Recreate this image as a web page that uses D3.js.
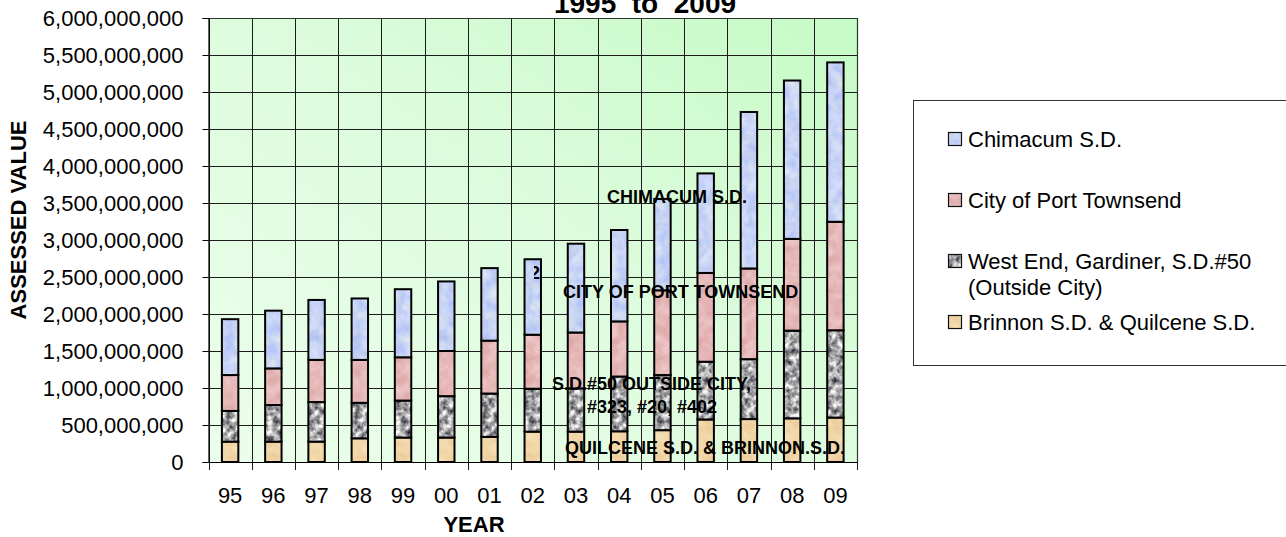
<!DOCTYPE html>
<html>
<head>
<meta charset="utf-8">
<script src="https://cdn.jsdelivr.net/npm/d3@7"></script>
<style>
  html, body { margin: 0; padding: 0; background: #ffffff; }
  svg { display: block; font-family: "Liberation Sans", Arial, sans-serif; }
</style>
</head>
<body>
<svg id="chart" width="1286" height="537"></svg>
<script>
// Assessed value by school district, in millions of dollars (segment heights)
const years = ["95","96","97","98","99","00","01","02","03","04","05","06","07","08","09"];
const brinnonQuilcene = [275,275,275,320,330,330,340,410,410,415,430,575,580,590,600];
const westEndGardiner = [415,495,535,480,500,560,585,580,585,740,745,780,810,1185,1180];
const portTownsend    = [485,495,570,580,585,610,715,730,755,745,1145,1200,1225,1240,1466];
const chimacum        = [755,780,810,830,920,940,980,1020,1200,1235,1235,1345,2115,2140,2154];

const seriesKeys   = ["brinnon", "westEnd", "portTownsend", "chimacum"];
const legendLabels = [
  ["Chimacum S.D."],
  ["City of Port Townsend"],
  ["West End, Gardiner, S.D.#50", "(Outside City)"],
  ["Brinnon S.D. & Quilcene S.D."]
];
const legendKeys = ["chimacum", "portTownsend", "westEnd", "brinnon"];
const yTicks = d3.range(0, 6000000001, 500000000);

const rows = years.map((yr, i) => ({
  year: yr,
  brinnon: brinnonQuilcene[i] * 1e6,
  westEnd: westEndGardiner[i] * 1e6,
  portTownsend: portTownsend[i] * 1e6,
  chimacum: chimacum[i] * 1e6
}));

const svg = d3.select("#chart");
const plot = { left: 208.5, right: 857, top: 18, bottom: 462 };

const x = d3.scaleBand().domain(years).range([plot.left, plot.right]).padding(0);
const y = d3.scaleLinear().domain([0, 6e9]).range([plot.bottom, plot.top]);

// ---- defs: background gradient and mottled fill textures ----
const defs = svg.append("defs");
const bg = defs.append("linearGradient").attr("id", "plotBg")
  .attr("x1", 0).attr("y1", 1).attr("x2", 1).attr("y2", 0);
bg.append("stop").attr("offset", "0%").attr("stop-color", "#ecfeec");
bg.append("stop").attr("offset", "55%").attr("stop-color", "#dcfcdc");
bg.append("stop").attr("offset", "100%").attr("stop-color", "#c6fac6");

const textures = {
  chimacum:     { freq: 0.09, oct: 3, seed: 4,
                  m: "0.26 0 0 0 0.65  0.22 0 0 0 0.72  0 0.10 0 0 0.91  0 0 0 0 1" },
  portTownsend: { freq: 0.10, oct: 3, seed: 9,
                  m: "0.10 0 0 0 0.85  0.20 0 0 0 0.62  0.20 0 0 0 0.62  0 0 0 0 1" },
  westEnd:      { freq: 0.17, oct: 3, seed: 2,
                  m: "1.3 0 0 0 0.00  1.3 0 0 0 0.00  1.2 0 0 0 0.06  0 0 0 0 1" },
  brinnon:      { freq: 0.10, oct: 2, seed: 6,
                  m: "0.05 0 0 0 0.92  0.14 0 0 0 0.77  0.18 0 0 0 0.57  0 0 0 0 1" }
};
Object.entries(textures).forEach(([key, t]) => {
  const f = defs.append("filter").attr("id", "noise-" + key)
    .attr("x", 0).attr("y", 0).attr("width", 1).attr("height", 1)
    .attr("filterUnits", "objectBoundingBox")
    .attr("color-interpolation-filters", "sRGB");
  f.append("feTurbulence").attr("type", "fractalNoise")
    .attr("baseFrequency", t.freq).attr("numOctaves", t.oct).attr("seed", t.seed)
    .attr("stitchTiles", "stitch");
  f.append("feColorMatrix").attr("type", "matrix").attr("values", t.m);
  const p = defs.append("pattern").attr("id", "fill-" + key)
    .attr("patternUnits", "userSpaceOnUse").attr("width", 64).attr("height", 256);
  p.append("rect").attr("width", 64).attr("height", 256).attr("filter", `url(#noise-${key})`);
});

// ---- plot background ----
svg.append("rect")
  .attr("x", plot.left).attr("y", plot.top)
  .attr("width", plot.right - plot.left).attr("height", plot.bottom - plot.top)
  .attr("fill", "url(#plotBg)");

// ---- gridlines ----
const grid = svg.append("g").attr("stroke", "#1c1c1c").attr("stroke-width", 1);
grid.selectAll("line.h").data(yTicks.slice(1)).join("line").attr("class", "h")
  .attr("x1", plot.left).attr("x2", plot.right)
  .attr("y1", d => Math.round(y(d)) + 0.5).attr("y2", d => Math.round(y(d)) + 0.5);
const boundaries = years.map(d => x(d)).concat([plot.right]);
grid.selectAll("line.v").data(boundaries).join("line").attr("class", "v")
  .attr("y1", plot.top).attr("y2", plot.bottom + 8)
  .attr("x1", d => Math.round(d) + 0.5).attr("x2", d => Math.round(d) + 0.5);

// plot frame (top and right)
svg.append("path")
  .attr("d", `M${plot.left},${plot.top + 0.5}H${plot.right + 0.5}V${plot.bottom}`)
  .attr("fill", "none").attr("stroke", "#2a3a2a").attr("stroke-width", 1.2);

// ---- stacked bars ----
const stacked = d3.stack().keys(seriesKeys)(rows);
const barW = x.bandwidth() * 0.38;
svg.append("g").selectAll("g").data(stacked).join("g")
  .attr("fill", d => `url(#fill-${d.key})`)
  .selectAll("rect").data(d => d).join("rect")
  .attr("x", d => x(d.data.year) + (x.bandwidth() - barW) / 2)
  .attr("y", d => y(d[1]))
  .attr("width", barW)
  .attr("height", d => y(d[0]) - y(d[1]))
  .attr("stroke", "#000").attr("stroke-width", 2);

// ---- axes ----
const yAxis = svg.append("g").attr("transform", `translate(${plot.left},0)`)
  .call(d3.axisLeft(y).tickValues(yTicks).tickFormat(d3.format(","))
    .tickSize(6).tickPadding(19));
yAxis.select(".domain").attr("stroke", "#000").attr("stroke-width", 1.2);
yAxis.selectAll(".tick line").attr("stroke", "#000");
yAxis.selectAll("text").attr("font-size", 22).attr("fill", "#000")
  .attr("font-family", "Liberation Sans, Arial, sans-serif");

const xAxis = svg.append("g").attr("transform", `translate(0,${plot.bottom})`)
  .call(d3.axisBottom(x).tickSize(0).tickPadding(25));
xAxis.select(".domain").attr("stroke", "#000").attr("stroke-width", 1.2);
xAxis.selectAll("text").attr("font-size", 22).attr("fill", "#000")
  .attr("font-family", "Liberation Sans, Arial, sans-serif");

// axis titles
svg.append("text")
  .attr("transform", "translate(26,220) rotate(-90)")
  .attr("text-anchor", "middle")
  .attr("font-size", 22).attr("font-weight", "bold")
  .text("ASSESSED VALUE");
svg.append("text")
  .attr("x", 474).attr("y", 532)
  .attr("text-anchor", "middle")
  .attr("font-size", 22).attr("font-weight", "bold")
  .text("YEAR");

// chart title (its upper part runs off the top edge)
svg.append("text")
  .attr("x", 645).attr("y", 13)
  .attr("text-anchor", "middle")
  .attr("font-size", 28).attr("font-weight", "bold")
  .style("white-space", "pre")
  .text("1995  to  2009");

// ---- district labels drawn over the bars ----
const notes = [
  { t: "CHIMACUM S.D.", x: 607, y: 203 },
  { t: "CITY OF PORT TOWNSEND", x: 563, y: 298 },
  { t: "S.D.#50 OUTSIDE CITY,", x: 552, y: 390 },
  { t: "#323, #20, #402", x: 587, y: 413 },
  { t: "QUILCENE S.D. & BRINNON.S.D.", x: 565, y: 454 }
];
svg.append("g").attr("font-size", 18).attr("font-weight", "bold").attr("fill", "#000")
  .selectAll("text").data(notes).join("text")
  .attr("x", d => d.x).attr("y", d => d.y).text(d => d.t);

defs.append("clipPath").attr("id", "clipTwo")
  .append("rect").attr("x", 534).attr("y", 255).attr("width", 12).attr("height", 30);
svg.append("text").attr("clip-path", "url(#clipTwo)")
  .attr("x", 530).attr("y", 279)
  .attr("font-size", 18).attr("font-weight", "bold").text("2");

// ---- legend ----
const lg = svg.append("g");
lg.append("rect")
  .attr("x", 913.5).attr("y", 100.5).attr("width", 378).attr("height", 265)
  .attr("fill", "#fff").attr("stroke", "#333").attr("stroke-width", 1);
const legendBase = [147, 208, 269, 330];
legendKeys.forEach((k, i) => {
  const by = legendBase[i];
  lg.append("rect")
    .attr("x", 948.5).attr("y", by - 14.5).attr("width", 13).attr("height", 13)
    .attr("fill", `url(#fill-${k})`).attr("stroke", "#111").attr("stroke-width", 1.2);
  const t = lg.append("text").attr("x", 968).attr("y", by)
    .attr("font-size", 22).attr("fill", "#000");
  legendLabels[i].forEach((line, j) => {
    t.append("tspan").attr("x", 968).attr("dy", j === 0 ? 0 : 26).text(line);
  });
});
</script>
</body>
</html>
